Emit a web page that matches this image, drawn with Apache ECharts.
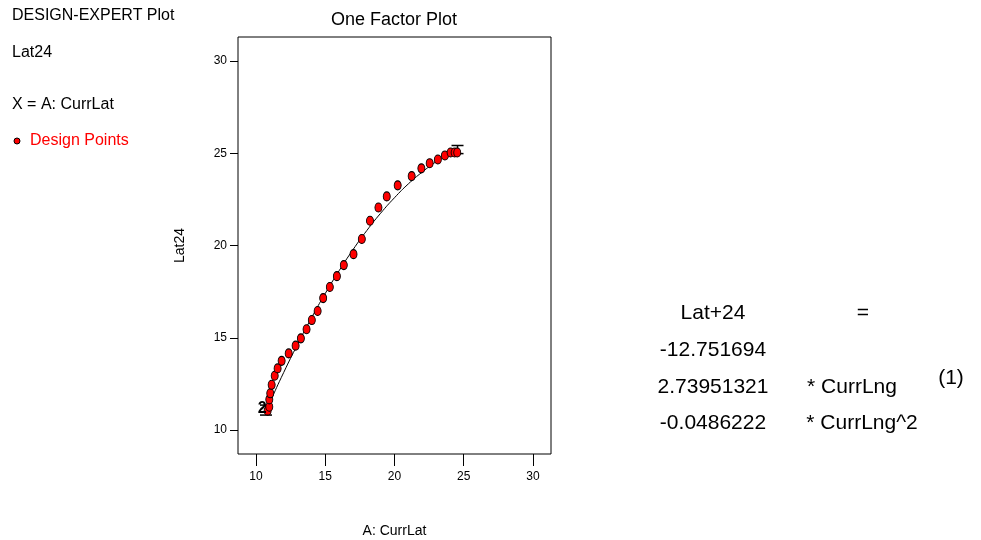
<!DOCTYPE html>
<html>
<head>
<meta charset="utf-8">
<script src="https://cdn.jsdelivr.net/npm/echarts@6/dist/echarts.min.js"></script>
<style>
html,body{margin:0;padding:0;background:#fff;}
#chart{width:981px;height:540px;}
</style>
</head>
<body>
<div id="chart"></div>
<script>
// Design points [CurrLat, Lat24]
const designX = [10.84, 10.96, 10.96, 11.03, 11.13, 11.35, 11.56, 11.85, 12.36, 12.86, 13.24, 13.65, 14.03, 14.45, 14.85, 15.33, 15.84, 16.34, 17.04, 17.64, 18.23, 18.84, 19.44, 20.23, 21.24, 21.94, 22.54, 23.13, 23.64, 24.05, 24.34, 24.53];
const designY = [11.05, 11.26, 11.66, 11.99, 12.45, 12.94, 13.34, 13.75, 14.15, 14.57, 14.97, 15.46, 15.96, 16.45, 17.15, 17.75, 18.34, 18.94, 19.53, 20.35, 21.34, 22.06, 22.66, 23.26, 23.76, 24.18, 24.46, 24.66, 24.88, 25.04, 25.04, 25.04];
// Fitted model line
const fitX = [10.8, 11, 12, 13, 14, 15, 16, 17, 18, 19, 20, 21, 22, 23, 24, 24.6];
const fitY = [11.16, 11.50, 13.12, 14.64, 16.07, 17.40, 18.63, 19.77, 20.81, 21.75, 22.59, 23.34, 23.98, 24.54, 24.99, 25.22];
// LSD bars: [x, low, high]
const barX = [10.72, 24.55];
const barLow = [10.81, 24.98];
const barHigh = [11.35, 25.42];
// Multiple-point count marker
const countX = [10.45];
const countY = [11.15];
const countText = ["2"];
// Axis ticks
const xTicks = [10, 15, 20, 25, 30];
const yTicks = [10, 15, 20, 25, 30];

const fontFam = '"Liberation Sans", Arial, sans-serif';
const chart = echarts.init(document.getElementById('chart'), null, {renderer: 'canvas'});

const designData = designX.map((x, i) => [x, designY[i]]);
const fitData = fitX.map((x, i) => [x, fitY[i]]);
const barData = barX.map((x, i) => [x, barLow[i], barHigh[i]]);
const countData = countX.map((x, i) => ({value: [x, countY[i]], name: countText[i]}));

const option = {
  animation: false,
  backgroundColor: '#fff',
  grid: {left: 238, right: 430, top: 37, bottom: 86, show: true, borderColor: '#000', borderWidth: 1, containLabel: false, outerBoundsMode: 'none'},
  xAxis: {
    type: 'value', min: 8.7, max: 31.3,
    name: 'A: CurrLat', nameLocation: 'middle', nameGap: 70,
    nameTextStyle: {fontFamily: fontFam, fontSize: 14, color: '#000'},
    axisLine: {show: false},
    axisTick: {show: true, inside: false, length: 12, lineStyle: {color: '#000'}, customValues: xTicks},
    axisLabel: {fontFamily: fontFam, fontSize: 12, color: '#000', margin: 17, customValues: xTicks},
    splitLine: {show: false}
  },
  yAxis: {
    type: 'value', min: 8.7, max: 31.3,
    name: 'Lat24', nameLocation: 'middle', nameGap: 51, nameRotate: 90,
    nameTextStyle: {fontFamily: fontFam, fontSize: 14, color: '#000'},
    axisLine: {show: false},
    axisTick: {show: true, inside: false, length: 8, lineStyle: {color: '#000'}, customValues: yTicks},
    axisLabel: {fontFamily: fontFam, fontSize: 12, color: '#000', margin: 11, customValues: yTicks},
    splitLine: {show: false}
  },
  series: [
    {
      type: 'line', data: fitData, smooth: true, showSymbol: false, symbol: 'none',
      lineStyle: {color: '#000', width: 1}, z: 2
    },
    {
      type: 'custom', data: barData, z: 3,
      renderItem: function (params, api) {
        const top = api.coord([api.value(0), api.value(2)]);
        const bot = api.coord([api.value(0), api.value(1)]);
        const hw = 6;
        const st = {stroke: '#000', lineWidth: 1.5};
        return {type: 'group', children: [
          {type: 'line', shape: {x1: top[0], y1: top[1], x2: bot[0], y2: bot[1]}, style: st},
          {type: 'line', shape: {x1: top[0] - hw, y1: top[1], x2: top[0] + hw, y2: top[1]}, style: st},
          {type: 'line', shape: {x1: bot[0] - hw, y1: bot[1], x2: bot[0] + hw, y2: bot[1]}, style: st}
        ]};
      }
    },
    {
      type: 'scatter', data: designData, symbol: 'circle', symbolSize: [7, 9],
      itemStyle: {color: '#ff0000', borderColor: '#000', borderWidth: 1, opacity: 1}, z: 4
    },
    {
      type: 'scatter', data: countData, symbol: 'rect', symbolSize: 2, z: 5,
      itemStyle: {opacity: 0},
      label: {show: true, position: 'inside', formatter: p => p.name, fontFamily: fontFam, fontSize: 16, fontWeight: 'bold', color: '#000', opacity: 1}
    }
  ],
  graphic: [
    {type: 'text', x: 394, y: 20, style: {text: 'One Factor Plot', font: '18px ' + fontFam, fill: '#000', textAlign: 'center', textVerticalAlign: 'middle'}},
    {type: 'text', x: 12, y: 16, style: {text: 'DESIGN-EXPERT Plot', font: '16px ' + fontFam, fill: '#000', textVerticalAlign: 'middle'}},
    {type: 'text', x: 12, y: 53, style: {text: 'Lat24', font: '16px ' + fontFam, fill: '#000', textVerticalAlign: 'middle'}},
    {type: 'text', x: 12, y: 105, style: {text: 'X = A: CurrLat', font: '16px ' + fontFam, fill: '#000', textVerticalAlign: 'middle'}},
    {type: 'circle', shape: {cx: 17, cy: 141, r: 3}, style: {fill: '#ff0000', stroke: '#000', lineWidth: 1}},
    {type: 'text', x: 30, y: 141, style: {text: 'Design Points', font: '16px ' + fontFam, fill: '#ff0000', textVerticalAlign: 'middle'}},
    {type: 'text', x: 713, y: 313, style: {text: 'Lat+24', font: '21px ' + fontFam, fill: '#000', textAlign: 'center', textVerticalAlign: 'middle'}},
    {type: 'text', x: 863, y: 313, style: {text: '=', font: '21px ' + fontFam, fill: '#000', textAlign: 'center', textVerticalAlign: 'middle'}},
    {type: 'text', x: 713, y: 350, style: {text: '-12.751694', font: '21px ' + fontFam, fill: '#000', textAlign: 'center', textVerticalAlign: 'middle'}},
    {type: 'text', x: 713, y: 387, style: {text: '2.73951321', font: '21px ' + fontFam, fill: '#000', textAlign: 'center', textVerticalAlign: 'middle'}},
    {type: 'text', x: 852, y: 387, style: {text: '* CurrLng', font: '21px ' + fontFam, fill: '#000', textAlign: 'center', textVerticalAlign: 'middle'}},
    {type: 'text', x: 951, y: 378, style: {text: '(1)', font: '21px ' + fontFam, fill: '#000', textAlign: 'center', textVerticalAlign: 'middle'}},
    {type: 'text', x: 713, y: 423, style: {text: '-0.0486222', font: '21px ' + fontFam, fill: '#000', textAlign: 'center', textVerticalAlign: 'middle'}},
    {type: 'text', x: 862, y: 423, style: {text: '* CurrLng^2', font: '21px ' + fontFam, fill: '#000', textAlign: 'center', textVerticalAlign: 'middle'}}
  ]
};
chart.setOption(option);
</script>
</body>
</html>
